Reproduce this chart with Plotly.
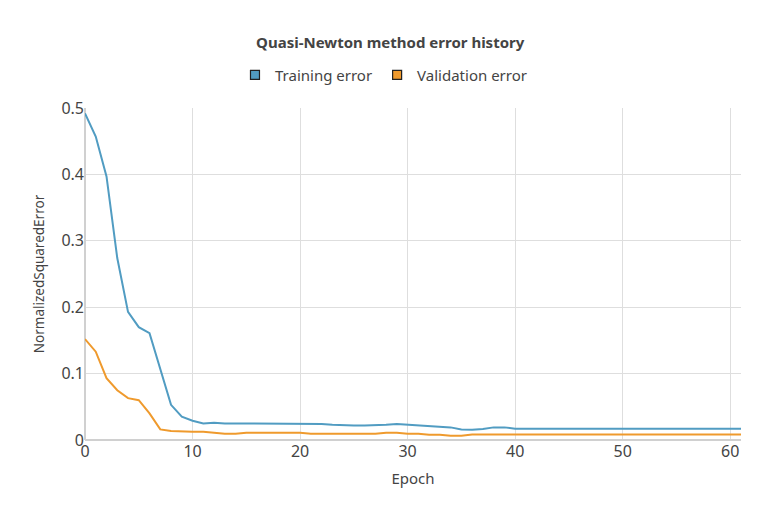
import plotly.graph_objects as go

# epochs 0..61
epochs = list(range(62))

training_error = [
    0.492, 0.457, 0.397, 0.274, 0.193, 0.170, 0.161, 0.108, 0.053, 0.035,
    0.029, 0.025, 0.026, 0.025, 0.025, 0.024, 0.024, 0.024, 0.024, 0.025,
    0.024, 0.024, 0.024, 0.023, 0.022, 0.022, 0.022, 0.022, 0.023, 0.024,
    0.023, 0.023, 0.022, 0.021, 0.019, 0.016, 0.0156, 0.0166, 0.019, 0.019,
    0.017, 0.017, 0.017, 0.017, 0.017, 0.017, 0.017, 0.017, 0.017, 0.017,
    0.017, 0.017, 0.017, 0.017, 0.017, 0.017, 0.017, 0.017, 0.017, 0.017,
    0.017, 0.017,
]

validation_error = [
    0.152, 0.133, 0.093, 0.075, 0.063, 0.060, 0.040, 0.016, 0.0135, 0.0125,
    0.0126, 0.0126, 0.011, 0.0095, 0.0095, 0.011, 0.011, 0.011, 0.011, 0.011,
    0.011, 0.0095, 0.0095, 0.0095, 0.0095, 0.0095, 0.0095, 0.0095, 0.011, 0.011,
    0.0095, 0.0095, 0.008, 0.008, 0.0065, 0.0065, 0.0083, 0.0083, 0.0083, 0.0083,
    0.0083, 0.0083, 0.0083, 0.0083, 0.0083, 0.0083, 0.0083, 0.0083, 0.0083, 0.0083,
    0.0083, 0.0083, 0.0083, 0.0083, 0.0083, 0.0083, 0.0083, 0.0083, 0.0083, 0.0083,
    0.0083, 0.0083,
]

series_names = ["Training error", "Validation error"]
colors = ["#519cc2", "#ef9a2d"]

fig = go.Figure()

for name, values, color in zip(series_names, [training_error, validation_error], colors):
    fig.add_trace(go.Scatter(
        x=epochs, y=values, mode="lines", name=name,
        line=dict(color=color, width=2),
        showlegend=False,
    ))
    # legend entry with a square swatch like the original
    fig.add_trace(go.Scatter(
        x=[None], y=[None], mode="markers", name=name,
        marker=dict(symbol="square", size=9, color=color,
                    line=dict(color="#222", width=1.2)),
    ))

fig.update_layout(
    width=780, height=520,
    paper_bgcolor="white", plot_bgcolor="white",
    font=dict(family="Noto Sans, Open Sans, sans-serif", color="#444", size=14),
    title=dict(text="<b>Quasi-Newton method error history</b>",
               x=0.49, xanchor="center", y=0.933, yanchor="middle",
               font=dict(size=15, color="#444")),
    legend=dict(orientation="h", x=0.455, xanchor="center", y=1.099, yanchor="middle",
                font=dict(size=15, color="#444"), itemwidth=30,
                tracegroupgap=0, itemclick=False),
    margin=dict(l=77, r=47, t=100, b=88),
    xaxis=dict(title=dict(text="Epoch", font=dict(size=15), standoff=12),
               range=[0, 61], dtick=10, showgrid=True, gridcolor="#dedede",
               zeroline=True, zerolinecolor="#d0d0d0", zerolinewidth=1.5,
               tickfont=dict(size=16), ticks="", showline=False),
    yaxis=dict(title=dict(text="NormalizedSquaredError", font=dict(size=13.5), standoff=13),
               range=[0, 0.5], dtick=0.1, showgrid=True, gridcolor="#dedede",
               zeroline=True, zerolinecolor="#d0d0d0", zerolinewidth=1.5,
               tickfont=dict(size=16), ticks="", showline=False),
)

fig.write_html("out.html")
